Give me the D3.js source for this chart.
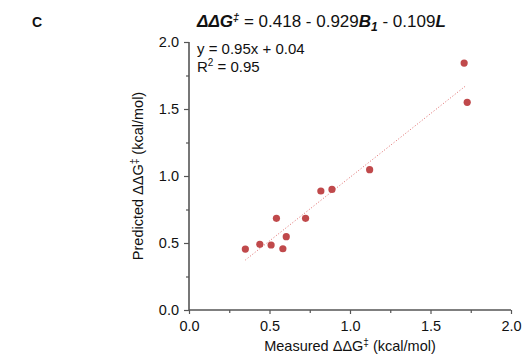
<!DOCTYPE html>
<html>
<head>
<meta charset="utf-8">
<script src="https://cdn.jsdelivr.net/npm/d3@7"></script>
<style>
  body { margin: 0; background: #fff; }
  text { font-family: "Liberation Sans", Arial, sans-serif; fill: #111; }
</style>
</head>
<body>
<div id="chart"></div>
<script>
// data
const measured  = [0.35, 0.44, 0.51, 0.543, 0.583, 0.604, 0.724, 0.819, 0.888, 1.122, 1.709, 1.728];
const predicted = [0.455, 0.49, 0.485, 0.684, 0.457, 0.547, 0.684, 0.888, 0.90, 1.047, 1.843, 1.55];
const fitX = [0.35, 1.72];
const fitY = [0.373, 1.674];
const majorTicks = [0, 0.5, 1.0, 1.5, 2.0];
const minorTicks = [0.25, 0.75, 1.25, 1.75];

const width = 522, height = 361;
const margin = { left: 189, right: 11, top: 42, bottom: 51 };

const svg = d3.select('#chart').append('svg')
  .attr('width', width)
  .attr('height', height);

const x = d3.scaleLinear().domain([0, 2]).range([margin.left, width - margin.right]);
const y = d3.scaleLinear().domain([0, 2]).range([height - margin.bottom, margin.top]);

const axisColor = '#555';

// axes ////////////////////////////////////////////////////////////
const xAxis = svg.append('g').attr('transform', `translate(0,${y(0)})`)
  .call(d3.axisBottom(x).tickValues(majorTicks).tickFormat(d3.format('.1f')).tickSize(4).tickPadding(7));
svg.append('g').attr('transform', `translate(0,${y(0)})`)
  .call(d3.axisBottom(x).tickValues(minorTicks).tickFormat('').tickSize(3))
  .select('.domain').remove();

const yAxis = svg.append('g').attr('transform', `translate(${x(0)},0)`)
  .call(d3.axisLeft(y).tickValues(majorTicks).tickFormat(d3.format('.1f')).tickSize(5).tickPadding(5));
svg.append('g').attr('transform', `translate(${x(0)},0)`)
  .call(d3.axisLeft(y).tickValues(minorTicks).tickFormat('').tickSize(3))
  .select('.domain').remove();

svg.selectAll('.domain').attr('stroke', axisColor).attr('stroke-width', 1.6);
svg.selectAll('.tick line').attr('stroke', axisColor).attr('stroke-width', 1.2);
svg.selectAll('.tick text').style('font-size', '14.5px').style('font-family', '"Liberation Sans", Arial, sans-serif').attr('fill', '#111');

// plain domain lines without end caps
xAxis.select('.domain').attr('d', `M${x(0)},0H${x(2)}`);
yAxis.select('.domain').attr('d', `M0,${y(0)}V${y(2)}`);

// fit line ////////////////////////////////////////////////////////
svg.append('line')
  .attr('x1', x(fitX[0])).attr('y1', y(fitY[0]))
  .attr('x2', x(fitX[1])).attr('y2', y(fitY[1]))
  .attr('stroke', '#e06a6a')
  .attr('stroke-width', 1)
  .attr('stroke-dasharray', '1,2');

// points //////////////////////////////////////////////////////////
svg.append('g').selectAll('circle')
  .data(measured.map((d, i) => [d, predicted[i]]))
  .join('circle')
  .attr('cx', d => x(d[0]))
  .attr('cy', d => y(d[1]))
  .attr('r', 3.6)
  .attr('fill', '#c0494b');

// labels //////////////////////////////////////////////////////////
svg.append('text').attr('x', 32).attr('y', 27)
  .style('font-size', '14px').style('font-weight', 'bold').text('C');

const title = svg.append('text').attr('x', 197).attr('y', 27).style('font-size', '17px');
title.append('tspan').style('font-weight', 'bold').style('font-style', 'italic').text('ΔΔG');
title.append('tspan').style('font-weight', 'bold').style('font-style', 'italic').attr('dy', -6).style('font-size', '11px').text('‡');
title.append('tspan').attr('dy', 6).text(' = 0.418 - 0.929');
title.append('tspan').style('font-weight', 'bold').style('font-style', 'italic').text('B');
title.append('tspan').style('font-weight', 'bold').style('font-style', 'italic').attr('dy', 4).style('font-size', '12px').text('1');
title.append('tspan').attr('dy', -4).text(' - 0.109');
title.append('tspan').style('font-weight', 'bold').style('font-style', 'italic').text('L');

svg.append('text').attr('x', 197).attr('y', 54).style('font-size', '15px').text('y = 0.95x + 0.04');
const r2 = svg.append('text').attr('x', 197).attr('y', 72).style('font-size', '15px');
r2.append('tspan').text('R');
r2.append('tspan').attr('dy', -6).style('font-size', '10px').text('2');
r2.append('tspan').attr('dy', 6).text(' = 0.95');

const xl = svg.append('text')
  .attr('x', (x(0) + x(2)) / 2).attr('y', 351)
  .attr('text-anchor', 'middle').style('font-size', '14.5px');
xl.append('tspan').text('Measured ΔΔG');
xl.append('tspan').attr('dy', -5).style('font-size', '10px').text('‡');
xl.append('tspan').attr('dy', 5).text(' (kcal/mol)');

const yl = svg.append('text')
  .attr('transform', `translate(143,${(y(0) + y(2)) / 2}) rotate(-90)`)
  .attr('text-anchor', 'middle').style('font-size', '14.5px');
yl.append('tspan').text('Predicted ΔΔG');
yl.append('tspan').attr('dy', -5).style('font-size', '10px').text('‡');
yl.append('tspan').attr('dy', 5).text(' (kcal/mol)');
</script>
</body>
</html>
